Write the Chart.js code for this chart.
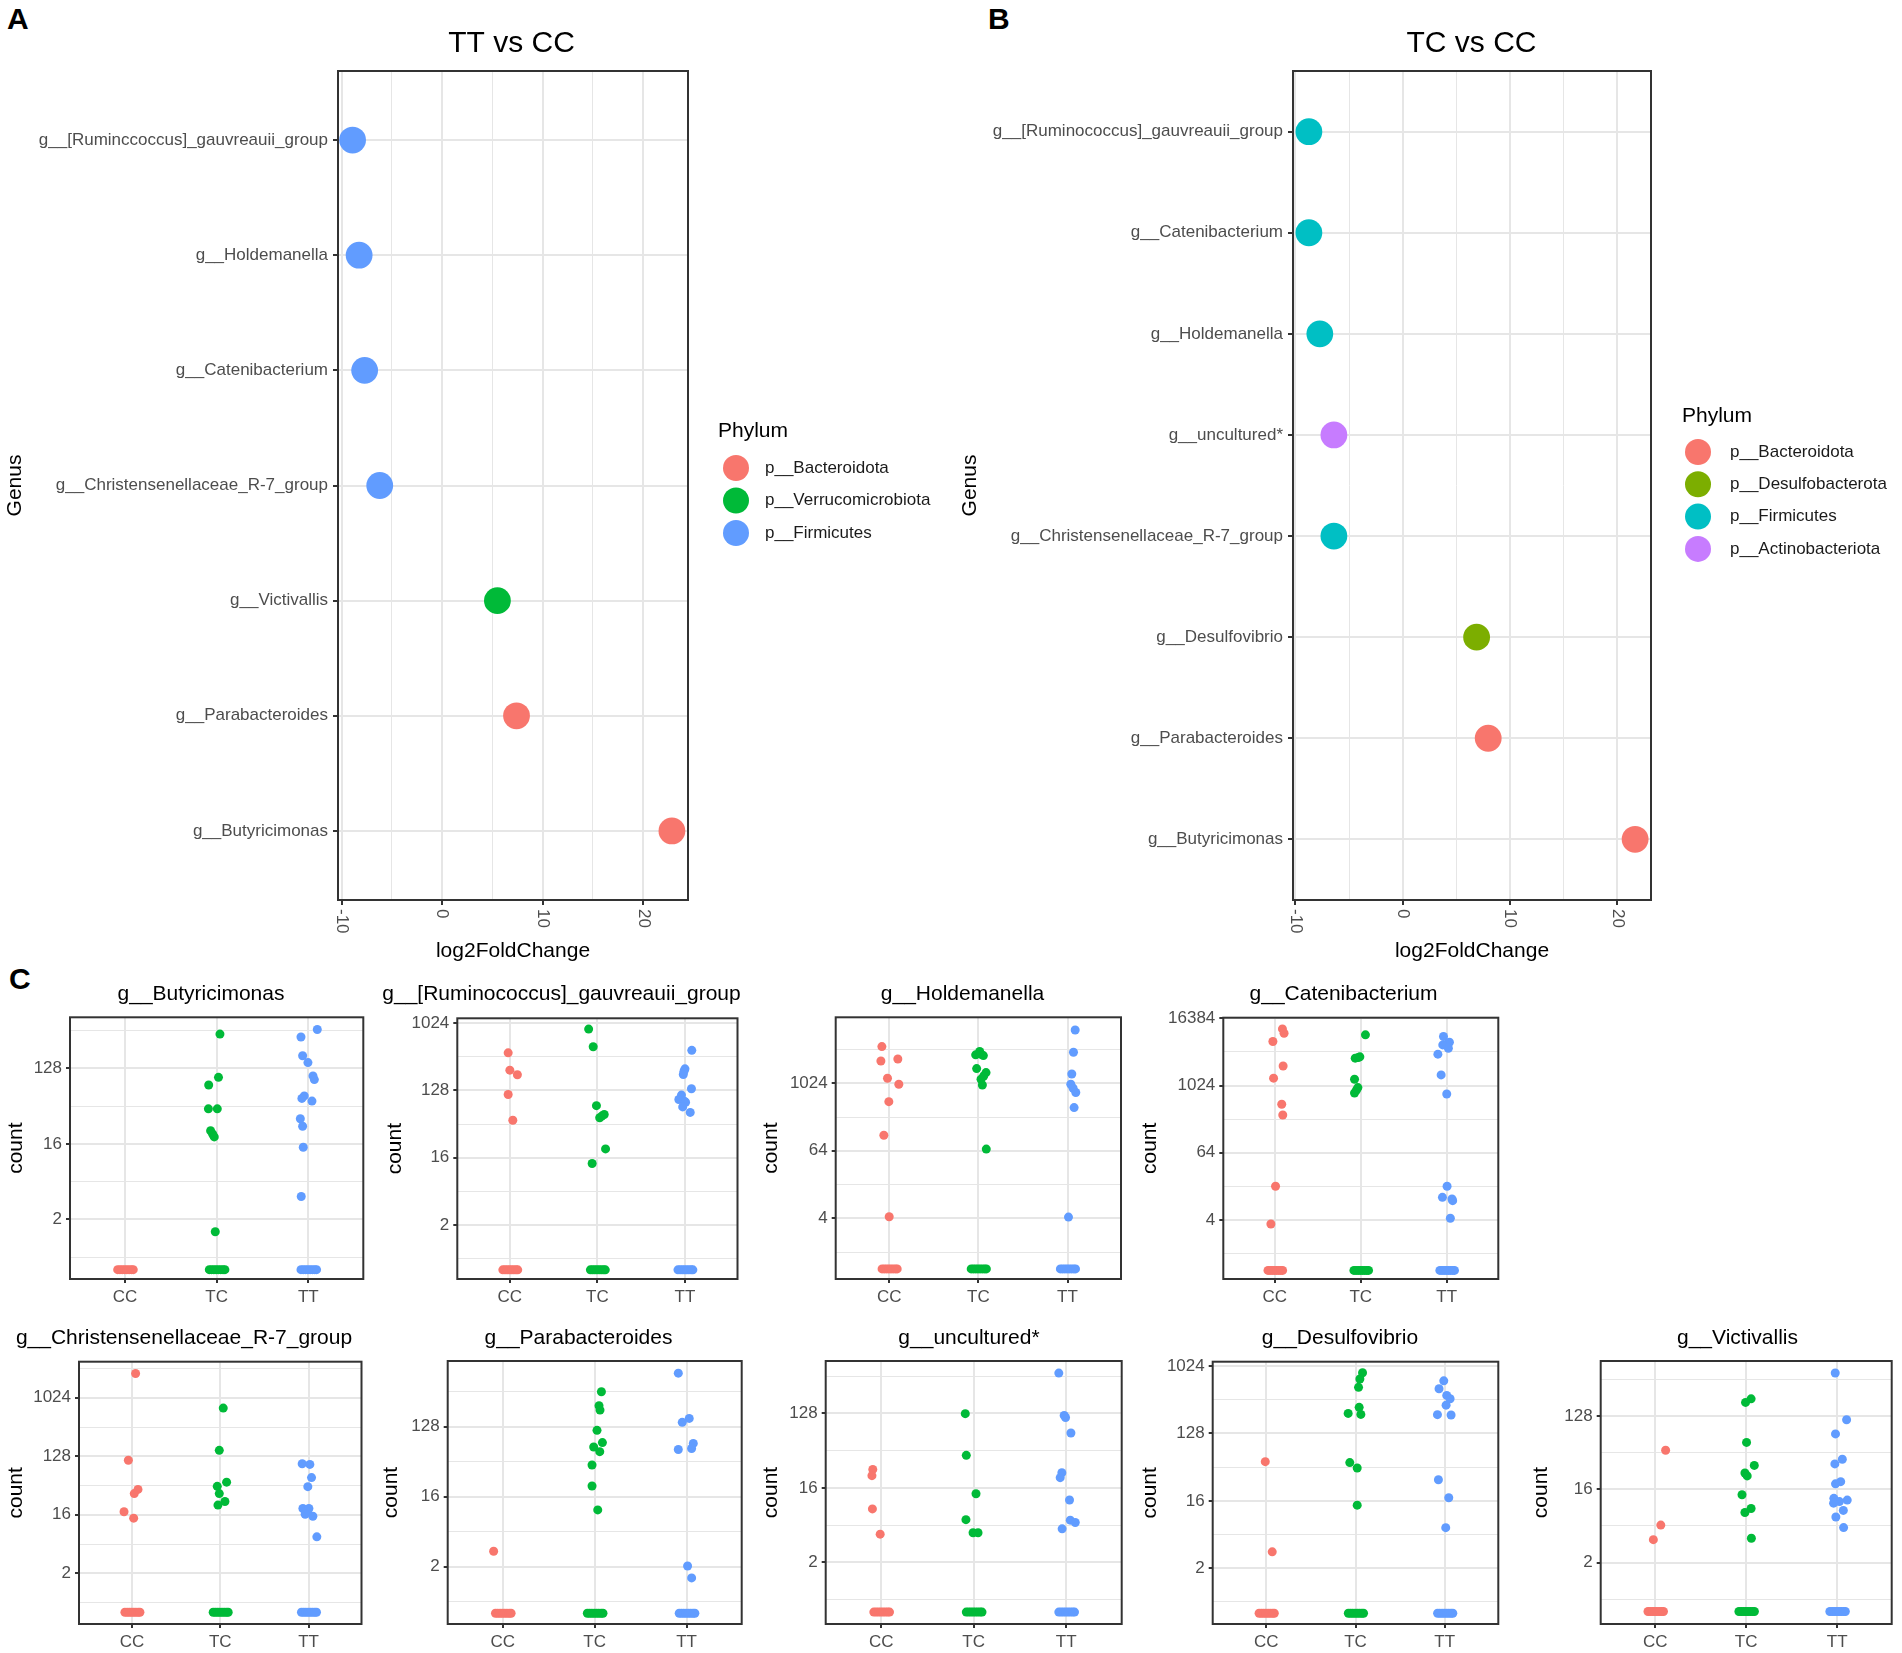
<!DOCTYPE html>
<html>
<head>
<meta charset="utf-8">
<script src="https://cdn.jsdelivr.net/npm/chart.js@4.4.0/dist/chart.umd.min.js"></script>
<style>
  html, body { margin: 0; padding: 0; background: #fff; overflow: hidden; width: 1902px; height: 1653px; }
  body { position: relative; font-family: "Liberation Sans", Arial, Helvetica, sans-serif; }
  canvas { position: absolute; }
  .tag { position: absolute; font-weight: bold; font-size: 30px; line-height: 1; color: #000; }
</style>
</head>
<body>
<div class="tag" style="left:7px;top:4px">A</div>
<div class="tag" style="left:988px;top:4px">B</div>
<div class="tag" style="left:9px;top:964px">C</div>
<script>
// ---- Panel A: TT vs CC ----
const genusA = ["g__[Ruminccoccus]_gauvreauii_group", "g__Holdemanella", "g__Catenibacterium",
  "g__Christensenellaceae_R-7_group", "g__Victivallis", "g__Parabacteroides", "g__Butyricimonas"];
const log2fcA = [-8.9, -8.25, -7.7, -6.2, 5.5, 7.4, 22.85];
const phylumOfA = ["p__Firmicutes", "p__Firmicutes", "p__Firmicutes", "p__Firmicutes",
  "p__Verrucomicrobiota", "p__Bacteroidota", "p__Bacteroidota"];
const phylaA = ["p__Bacteroidota", "p__Verrucomicrobiota", "p__Firmicutes"];
const phylaColorsA = ["#F8766D", "#00BA38", "#619CFF"];

// ---- Panel B: TC vs CC ----
const genusB = ["g__[Ruminococcus]_gauvreauii_group", "g__Catenibacterium", "g__Holdemanella",
  "g__uncultured*", "g__Christensenellaceae_R-7_group", "g__Desulfovibrio", "g__Parabacteroides", "g__Butyricimonas"];
const log2fcB = [-8.75, -8.75, -7.73, -6.42, -6.42, 6.88, 7.96, 21.65];
const phylumOfB = ["p__Firmicutes", "p__Firmicutes", "p__Firmicutes", "p__Actinobacteriota",
  "p__Firmicutes", "p__Desulfobacterota", "p__Bacteroidota", "p__Bacteroidota"];
const phylaB = ["p__Bacteroidota", "p__Desulfobacterota", "p__Firmicutes", "p__Actinobacteriota"];
const phylaColorsB = ["#F8766D", "#7CAE00", "#00BFC4", "#C77CFF"];

const lfcTicks = [-10, 0, 10, 20];

// ---- Panel C: counts per genotype ----
const groups = ["CC", "TC", "TT"];
const groupColors = ["#F8766D", "#00BA38", "#619CFF"];
const ZERO_AT = 0.5;   // samples with zero count sit at 0.5 on the log2 axis
const zeroJitter = [-0.08, -0.055, -0.03, -0.005, 0.02, 0.045, 0.07, 0.09];

const panelNames = ["g__Butyricimonas", "g__[Ruminococcus]_gauvreauii_group", "g__Holdemanella",
  "g__Catenibacterium", "g__Christensenellaceae_R-7_group", "g__Parabacteroides",
  "g__uncultured*", "g__Desulfovibrio", "g__Victivallis"];
const panelBreaks = [[2, 16, 128], [2, 16, 128, 1024], [4, 64, 1024], [4, 64, 1024, 16384],
  [2, 16, 128, 1024], [2, 16, 128], [2, 16, 128], [2, 16, 128, 1024], [2, 16, 128]];

// non-zero counts per group (CC, TC, TT) and the horizontal jitter seen in the figure
const butyricimonasCounts = [[], [329, 100, 81, 42, 42, 23, 21, 19.4, 1.42],
  [373, 304, 181, 150, 104, 94, 60, 56, 52, 32, 26, 14.6, 3.76]];
const butyricimonasJitter = [[], [0.036, 0.02, -0.087, -0.09, 0.007, -0.066, -0.044, -0.026, -0.015],
  [0.098, -0.08, -0.062, -0.004, 0.051, 0.066, -0.044, -0.07, 0.04, -0.087, -0.062, -0.055, -0.077]];

const ruminococcusCounts = [[410, 240, 208, 113, 51], [855, 494, 80, 61, 58, 55, 21, 13.4],
  [443, 250, 232, 210, 135, 111, 97, 92, 89, 77, 65]];
const ruminococcusJitter = [[-0.019, 0, 0.086, -0.019, 0.034], [-0.1, -0.048, -0.011, 0.078, 0.05, 0.026, 0.093, -0.06],
  [0.078, 0, -0.011, -0.019, 0.074, -0.04, -0.07, -0.007, 0.007, -0.026, 0.06]];

const holdemanellaCounts = [[4620, 2780, 2560, 1260, 985, 481, 121, 4.26],
  [3770, 3380, 3290, 3190, 1870, 1590, 1380, 1210, 955, 68.6], [9150, 3660, 1500, 985, 833, 700, 377, 4.2]];
const holdemanellaJitter = [[-0.082, 0.097, -0.093, -0.019, 0.108, -0.004, -0.06, 0],
  [0.015, 0.03, -0.03, 0.056, -0.019, 0.086, 0.06, 0.03, 0.045, 0.089],
  [0.086, 0.067, 0.048, 0.037, 0.063, 0.093, 0.074, 0.011]];

const catenibacteriumCounts = [[10600, 8860, 6300, 2300, 1390, 474, 305, 16.1, 3.4],
  [8300, 3350, 3260, 3170, 1330, 942, 855, 755],
  [7750, 6130, 5630, 5480, 4770, 3740, 1590, 724, 16.1, 10.2, 9.5, 8.9, 4.3]];
const catenibacteriumJitter = [[0.088, 0.107, -0.023, 0.096, -0.015, 0.08, 0.092, 0.008, -0.046],
  [0.054, -0.011, -0.03, -0.065, -0.073, -0.034, -0.05, -0.073],
  [-0.038, 0.031, 0.004, -0.046, 0.019, -0.103, -0.065, 0, 0.004, -0.05, 0.061, 0.069, 0.042]];

const christensenellaceaeCounts = [[2430, 111, 39.4, 34, 17.8, 14.2], [709, 158, 51, 44, 34, 25.7, 22.6],
  [98, 96, 60, 43.5, 20, 20, 18, 16.3, 15.2, 7.3]];
const christensenellaceaeJitter = [[0.041, -0.041, 0.068, 0.026, -0.09, 0.019],
  [0.034, -0.011, 0.072, -0.034, -0.011, 0.053, -0.026],
  [-0.072, 0.015, 0.034, -0.008, -0.064, 0.004, -0.02, -0.038, 0.049, 0.094]];

const parabacteroidesCounts = [[3.16], [362, 239, 210, 115, 80, 70, 61, 41, 22, 10.8],
  [630, 164, 146, 78, 67, 65, 2.04, 1.43]];
const parabacteroidesJitter = [[-0.1], [0.073, 0.047, 0.058, 0.025, 0.084, -0.011, 0.055, -0.029, -0.029, 0.033],
  [-0.09, 0.029, -0.047, 0.073, 0.055, -0.09, 0.011, 0.055]];

const unculturedCounts = [[26.8, 22.5, 8.9, 4.4], [127, 39.7, 13.6, 6.6, 4.57, 4.57],
  [394, 121, 114, 74, 24.4, 21.3, 11.4, 6.5, 6.1, 5.1]];
const unculturedJitter = [[-0.091, -0.1, -0.095, -0.011], [-0.091, -0.08, 0.025, -0.084, -0.007, 0.047],
  [-0.08, -0.022, -0.007, 0.051, -0.047, -0.065, 0.036, 0.044, 0.098, -0.044]];

const desulfovibrioCounts = [[53.5, 3.32], [832, 685, 530, 286, 237, 230, 52, 44, 14],
  [648, 508, 413, 372, 306, 228, 226, 30.7, 17.6, 7]];
const desulfovibrioJitter = [[-0.011, 0.067], [0.079, 0.049, 0.034, 0.041, -0.082, 0.06, -0.064, 0.019, 0.019],
  [-0.011, -0.064, 0.022, 0.06, 0.015, -0.082, 0.071, -0.071, 0.045, 0.011]];

const victivallisCounts = [[48.5, 5.8, 3.84], [208, 188, 60.5, 31.5, 25.4, 23.4, 13.7, 9.3, 8.3, 4.0],
  [433, 115, 77, 37.5, 32.9, 19.9, 18.7, 12.4, 11.8, 11.3, 10.8, 8.8, 7.3, 5.4]];
const victivallisJitter = [[0.114, 0.061, -0.021], [0.054, -0.007, 0.004, 0.089, -0.014, 0.011, -0.046, 0.054, -0.014, 0.057],
  [-0.021, 0.104, -0.018, 0.057, -0.025, 0.039, -0.018, -0.036, 0.111, 0.025, -0.039, 0.068, -0.014, 0.071]];

const cCounts = [butyricimonasCounts, ruminococcusCounts, holdemanellaCounts, catenibacteriumCounts,
  christensenellaceaeCounts, parabacteroidesCounts, unculturedCounts, desulfovibrioCounts, victivallisCounts];
const cJitter = [butyricimonasJitter, ruminococcusJitter, holdemanellaJitter, catenibacteriumJitter,
  christensenellaceaeJitter, parabacteroidesJitter, unculturedJitter, desulfovibrioJitter, victivallisJitter];

// ---- layout (page pixels) ----
// plot box: left, top, right, bottom, title centre x, "count" centre x
const cBoxes = [
  [70, 1017.3, 363.3, 1279, 201, 16], [457.3, 1018.3, 741.7, 1279, 561.7, 395.7],
  [835.7, 1017.3, 1121, 1279, 962.3, 771.7], [1223.3, 1017.7, 1498.3, 1279, 1343.7, 1150.7],
  [79, 1361.7, 362.7, 1624, 184.2, 16.7], [447.7, 1361, 741.7, 1624, 578.3, 391],
  [825.7, 1361, 1121.7, 1624, 968.8, 771], [1212.7, 1361.7, 1498.3, 1624, 1340, 1150],
  [1600.7, 1361, 1891.7, 1624, 1737.5, 1541.7]];
const cTitleY = [995, 995, 995, 995, 1338.5, 1338.5, 1338.5, 1338.5, 1338.5];
const cLimits = [[-1.37, 9.03], [-1.41, 10.22], [-1.6, 13.91], [-1.51, 14.04], [-1.6, 11.85],
  [-1.46, 9.82], [-1.48, 9.11], [-1.48, 10.19], [-1.51, 9.25]];   // log2 range of each y axis

const FONT = '"Liberation Sans", Arial, Helvetica, sans-serif';
Chart.defaults.font.family = FONT;
Chart.defaults.color = '#4D4D4D';
const GRID = '#E6E6E6', INK = '#333333', CLEAR = 'rgba(0,0,0,0)';
const isMinor = c => !!(c.tick && c.tick.minorTick);

const panelBorder = {
  id: 'panelBorder',
  afterDatasetsDraw(chart) {
    const { ctx, chartArea: a } = chart;
    ctx.save();
    ctx.strokeStyle = INK;
    ctx.lineWidth = 2;
    ctx.strokeRect(a.left, a.top, a.right - a.left, a.bottom - a.top);
    ctx.restore();
  }
};

// x labels of A and B read downwards (turned clockwise)
const downLabels = {
  id: 'downLabels',
  afterDraw(chart) {
    const s = chart.scales.x, ctx = chart.ctx;
    ctx.save();
    ctx.fillStyle = '#4D4D4D';
    ctx.font = '17px ' + FONT;
    ctx.textAlign = 'left';
    ctx.textBaseline = 'middle';
    s.ticks.forEach(t => {
      if (t.minorTick) return;
      ctx.save();
      ctx.translate(s.getPixelForValue(t.value), s.top + 9);
      ctx.rotate(Math.PI / 2);
      ctx.fillText(String(t.value), 0, 0);
      ctx.restore();
    });
    ctx.restore();
  }
};

const phylumLegend = {
  id: 'phylumLegend',
  afterDraw(chart, args, o) {
    const ctx = chart.ctx;
    ctx.save();
    ctx.textAlign = 'left';
    ctx.textBaseline = 'middle';
    ctx.fillStyle = '#000';
    ctx.font = '21px ' + FONT;
    ctx.fillText('Phylum', o.titleX, o.titleY);
    ctx.font = '17px ' + FONT;
    chart.data.datasets.forEach((ds, i) => {
      const y = o.firstY + i * o.step;
      ctx.beginPath();
      ctx.arc(o.dotX, y, 13, 0, Math.PI * 2);
      ctx.fillStyle = ds.backgroundColor;
      ctx.fill();
      ctx.fillStyle = '#1A1A1A';
      ctx.fillText(ds.label, o.labelX, y);
    });
    ctx.restore();
  }
};

function makeCanvas(left, top, w, h) {
  const cv = document.createElement('canvas');
  cv.width = w; cv.height = h;
  cv.style.left = left + 'px'; cv.style.top = top + 'px';
  cv.style.width = w + 'px'; cv.style.height = h + 'px';
  document.body.appendChild(cv);
  return cv;
}

function dotPlot(o) {
  const [L, T, R, B] = o.box;
  const CL = o.canvasLeft, H = 968;
  const W = Math.round(2 * (o.titleX - CL));
  const cv = makeCanvas(CL, 0, W, H);
  const xTicks = lfcTicks.map(v => ({ value: v }))
    .concat(lfcTicks.slice(0, -1).map(v => ({ value: v + 5, minorTick: true })))
    .sort((a, b) => a.value - b.value);
  new Chart(cv, {
    type: 'scatter',
    data: {
      datasets: o.phyla.map((p, k) => ({
        label: p,
        data: o.genus.map((g, i) => ({ x: o.lfc[i], y: i })).filter((d, i) => o.phylumOf[i] === p),
        backgroundColor: o.colors[k],
        borderWidth: 0,
        pointRadius: 13.4,
        pointHoverRadius: 13.4
      }))
    },
    options: {
      responsive: false, animation: false, events: [],
      layout: { padding: 0 },
      plugins: {
        legend: { display: false }, tooltip: { enabled: false },
        title: { display: true, text: o.title, color: '#000', font: { size: 30, weight: 'normal' },
                 padding: { top: 26, bottom: T - 62 } },
        phylumLegend: o.legend
      },
      scales: {
        x: {
          type: 'linear', position: 'bottom', min: o.xMin, max: o.xMax, bounds: 'data',
          afterBuildTicks: s => { s.ticks = xTicks.map(t => Object.assign({}, t)); },
          ticks: { display: false, autoSkip: false },
          grid: { color: GRID, lineWidth: c => isMinor(c) ? 1 : 2,
                  tickColor: c => isMinor(c) ? CLEAR : INK, tickLength: 5, tickWidth: 2 },
          border: { display: false },
          title: { display: true, text: 'log2FoldChange', color: '#000', font: { size: 21 },
                   padding: { top: 0, bottom: H - 951 - 12.6 } },
          afterFit: s => { s.height = H - B; }
        },
        y: {
          type: 'linear', position: 'left', reverse: true, min: -0.6, max: o.genus.length - 0.4, bounds: 'data',
          afterBuildTicks: s => { s.ticks = o.genus.map((g, i) => ({ value: i })); },
          ticks: { autoSkip: false, padding: 5, color: '#4D4D4D', font: { size: 17 }, callback: v => o.genus[v] },
          grid: { color: GRID, lineWidth: 2, tickColor: INK, tickLength: 5, tickWidth: 2 },
          border: { display: false },
          title: { display: true, text: 'Genus', color: '#000', font: { size: 21 },
                   padding: { top: o.genusX - CL - 12.6, bottom: 0 } },
          afterFit: s => { s.width = L - CL; }
        },
        gap: {
          type: 'linear', position: 'right',
          grid: { display: false }, ticks: { display: false }, border: { display: false },
          afterFit: s => { s.width = CL + W - R; }
        }
      }
    },
    plugins: [panelBorder, downLabels, phylumLegend]
  });
}

function stripPlot(k) {
  const [L, T, R, B, titleX, countX] = cBoxes[k];
  const CL = Math.floor(countX - 14);
  const CT = Math.round(cTitleY[k] - 14.6);
  const W = Math.round(2 * (titleX - CL));
  const H = Math.round(B + 30 - CT);
  const cv = makeCanvas(CL, CT, W, H);
  const [lo, hi] = cLimits[k];
  const majors = panelBreaks[k];
  const half = Math.log2(majors[1] / majors[0]) / 2;
  const minors = [majors[0] / 2 ** half].concat(majors.map(v => v * 2 ** half));
  const yTicks = majors.map(v => ({ value: v }))
    .concat(minors.map(v => ({ value: v, minorTick: true })))
    .filter(t => t.value >= 2 ** lo && t.value <= 2 ** hi)
    .sort((a, b) => a.value - b.value);
  new Chart(cv, {
    type: 'scatter',
    data: {
      datasets: groups.map((g, gi) => ({
        label: g,
        data: zeroJitter.map(z => ({ x: gi + 1 + z, y: ZERO_AT }))
          .concat(cCounts[k][gi].map((c, j) => ({ x: gi + 1 + cJitter[k][gi][j], y: c }))),
        backgroundColor: groupColors[gi],
        borderWidth: 0,
        pointRadius: 4.5,
        pointHoverRadius: 4.5
      }))
    },
    options: {
      responsive: false, animation: false, events: [],
      layout: { padding: 0 },
      plugins: {
        legend: { display: false }, tooltip: { enabled: false },
        title: { display: true, text: panelNames[k], color: '#000', font: { size: 21, weight: 'normal' },
                 padding: { top: 2, bottom: T - CT - 27.2 } }
      },
      scales: {
        x: {
          type: 'linear', position: 'bottom', min: 0.4, max: 3.6, bounds: 'data',
          afterBuildTicks: s => { s.ticks = groups.map((g, i) => ({ value: i + 1 })); },
          ticks: { autoSkip: false, padding: 4, minRotation: 0, maxRotation: 0, color: '#4D4D4D',
                   font: { size: 17 }, callback: v => groups[v - 1] },
          grid: { color: GRID, lineWidth: 2, tickColor: INK, tickLength: 4, tickWidth: 2 },
          border: { display: false },
          afterFit: s => { s.height = CT + H - B; }
        },
        y: {
          type: 'logarithmic', position: 'left', min: 2 ** lo, max: 2 ** hi, bounds: 'data',
          afterBuildTicks: s => { s.ticks = yTicks.map(t => Object.assign({}, t)); },
          ticks: { autoSkip: false, padding: 4, color: '#4D4D4D', font: { size: 17 },
                   callback: (v, i, ticks) => ticks[i].minorTick ? '' : String(v) },
          grid: { color: GRID, lineWidth: c => isMinor(c) ? 1 : 2,
                  tickColor: c => isMinor(c) ? CLEAR : INK, tickLength: 4, tickWidth: 2 },
          border: { display: false },
          title: { display: true, text: 'count', color: '#000', font: { size: 21 },
                   padding: { top: countX - CL - 12.6, bottom: 0 } },
          afterFit: s => { s.width = L - CL; }
        },
        gap: {
          type: 'linear', position: 'right',
          grid: { display: false }, ticks: { display: false }, border: { display: false },
          afterFit: s => { s.width = Math.max(CL + W - R, 0); }
        }
      }
    },
    plugins: [panelBorder]
  });
}

dotPlot({
  title: 'TT vs CC', genus: genusA, lfc: log2fcA, phylumOf: phylumOfA, phyla: phylaA, colors: phylaColorsA,
  box: [338, 71, 688, 900], canvasLeft: 0, titleX: 511.5, genusX: 15.5, xMin: -10.35, xMax: 24.45,
  legend: { titleX: 718, titleY: 431, dotX: 736, labelX: 765, firstY: 468, step: 32.5 }
});
dotPlot({
  title: 'TC vs CC', genus: genusB, lfc: log2fcB, phylumOf: phylumOfB, phyla: phylaB, colors: phylaColorsB,
  box: [1293, 71, 1651, 900], canvasLeft: 955, titleX: 1471.5, genusX: 970, xMin: -10.23, xMax: 23.13,
  legend: { titleX: 1682 - 955, titleY: 416, dotX: 1698 - 955, labelX: 1730 - 955, firstY: 452, step: 32.3 }
});
for (let k = 0; k < panelNames.length; k++) stripPlot(k);
</script>
</body>
</html>
